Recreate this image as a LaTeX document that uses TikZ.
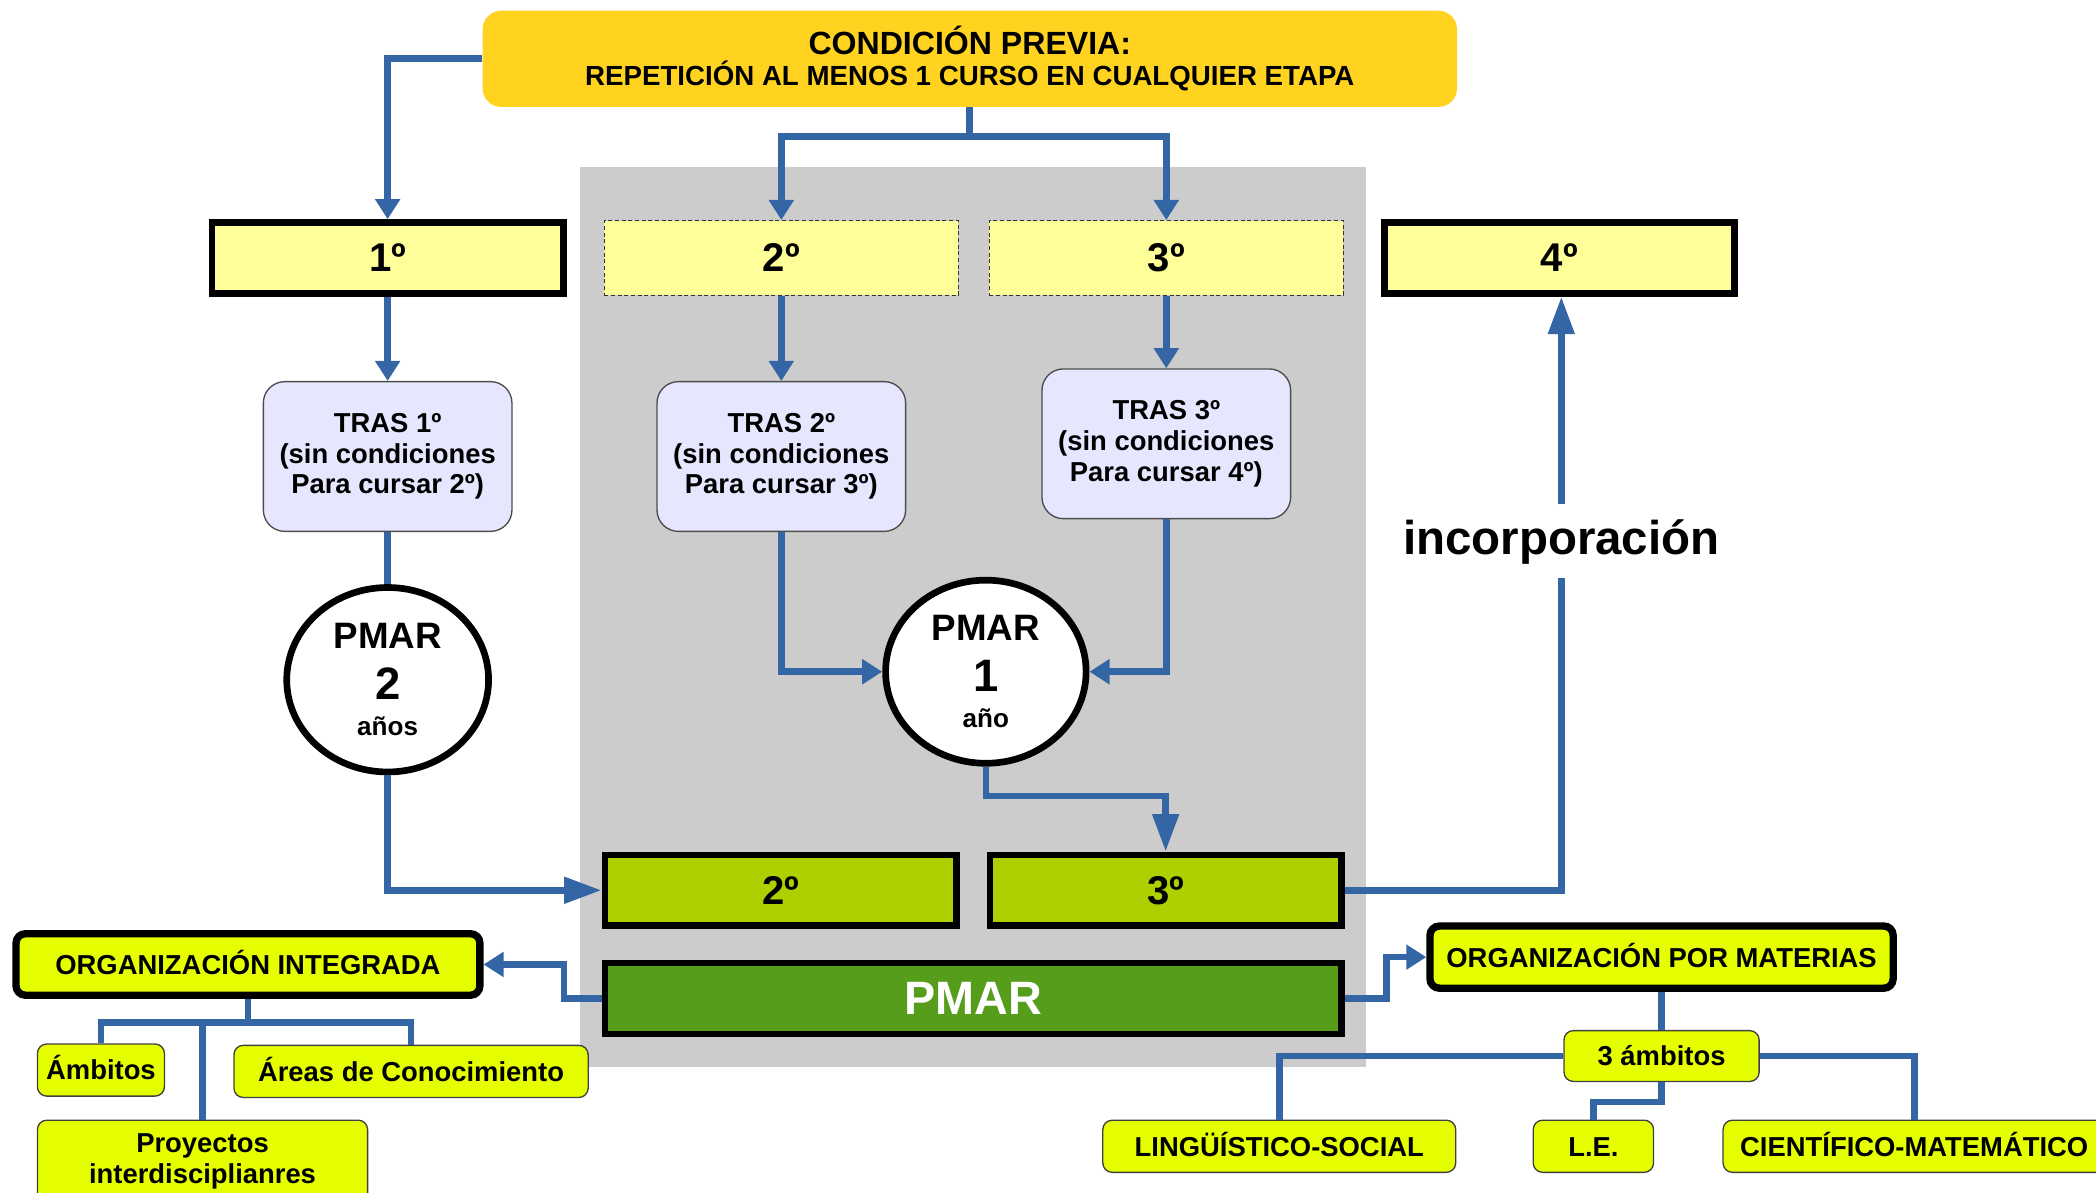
\documentclass[tikz,border=0pt]{standalone}
\usepackage{fontspec}
\setmainfont{Liberation Sans}
\usetikzlibrary{shapes.geometric, arrows.meta}

\definecolor{oro}{HTML}{FFD320}
\definecolor{crema}{HTML}{FFFF99}
\definecolor{lila}{HTML}{E6E6FF}
\definecolor{lima}{HTML}{E6FF00}
\definecolor{pistacho}{HTML}{AECF00}
\definecolor{hierba}{HTML}{579D1C}
\definecolor{azul}{HTML}{3465A4}
\definecolor{gris}{HTML}{CCCCCC}

\begin{document}
\begin{tikzpicture}[x=1pt, y=-1pt,
	every node/.style={inner sep=0pt, align=center, font=\fontsize{20.5}{23}\selectfont\bfseries},
	curso/.style={draw=black, line width=5pt, fill=crema, minimum width=263pt, minimum height=53pt, font=\fontsize{30}{32}\selectfont\bfseries},
	cursodash/.style={draw=black!80, densely dashed, line width=0.8pt, fill=crema, minimum width=265pt, minimum height=56pt, font=\fontsize{30}{32}\selectfont\bfseries},
	tras/.style={draw=black!70, line width=1pt, fill=lila, rounded corners=16pt, minimum width=186pt, minimum height=112pt},
	pmar/.style={ellipse, draw=black, line width=5pt, fill=white, minimum width=151pt, minimum height=138pt, font=\fontsize{20}{27}\selectfont\bfseries},
	verde/.style={draw=black, line width=5pt, fill=pistacho, minimum width=263pt, minimum height=53pt, font=\fontsize{30}{32}\selectfont\bfseries},
	org/.style={draw=black, line width=5.5pt, fill=lima, rounded corners=7pt, minimum width=347pt, minimum height=46pt, una},
	hoja/.style={draw=black!75, line width=1pt, fill=lima, rounded corners=7pt, minimum height=39pt},
	una/.style={text height=14.8pt, text depth=0pt},
	linea/.style={draw=azul, line width=5pt},
	flecha/.style={linea, -{Triangle[length=15pt, width=18pt]}},
	flechalarga/.style={linea, -{Triangle[length=28pt, width=19pt]}}
]
	\useasboundingbox (0,0) rectangle (1568,892);
	\fill[gris] (434,125) rectangle (1022,798);

	% condicion previa
	\node[fill=oro, rounded corners=14pt, minimum width=729pt, minimum height=72pt] (cond) at (725.5,44)
		{{\fontsize{24}{26}\selectfont CONDICIÓN PREVIA:}\\{\fontsize{20.7}{24}\selectfont REPETICIÓN AL MENOS 1 CURSO EN CUALQUIER ETAPA}};
	\coordinate (reparto) at (725.5,102);

	% cursos
	\node[curso] (c1) at (290,193) {1º};
	\node[cursodash] (c2) at (584.5,193) {2º};
	\node[cursodash] (c3) at (872.5,193) {3º};
	\node[curso, minimum width=262pt] (c4) at (1166.5,193) {4º};

	\node[tras] (t1) at (290,341.5) {TRAS 1º\\(sin condiciones\\Para cursar 2º)};
	\node[tras] (t2) at (584.5,341.5) {TRAS 2º\\(sin condiciones\\Para cursar 3º)};
	\node[tras] (t3) at (872.5,332) {TRAS 3º\\(sin condiciones\\Para cursar 4º)};

	\node[pmar] (p2) at (290,508.5)
		{{\fontsize{27.5}{30}\selectfont PMAR}\\[11pt]{\fontsize{34}{36}\selectfont 2}\\{\fontsize{19.5}{22}\selectfont años}};
	\node[pmar, minimum width=150pt, minimum height=137pt] (p1) at (737.5,502.5)
		{{\fontsize{27.5}{30}\selectfont PMAR}\\[11pt]{\fontsize{34}{36}\selectfont 1}\\{\fontsize{19.5}{22}\selectfont año}};

	\node[verde] (g2) at (584,666) {2º};
	\node[verde] (g3) at (872,666) {3º};
	\node[verde, fill=hierba, minimum width=551pt, text=white, font=\fontsize{35}{38}\selectfont\bfseries] (pm) at (728,747) {PMAR};

	\node[minimum height=55pt, text height=26pt, text depth=7pt, font=\fontsize{35.5}{40}\selectfont\bfseries] (inc) at (1168,405) {incorporación};

	% organizaciones
	\node[org] (oi) at (185.5,721.5) {ORGANIZACIÓN INTEGRADA};
	\node[org, minimum width=346.5pt, minimum height=46.5pt] (om) at (1243,716) {ORGANIZACIÓN POR MATERIAS};

	\node[hoja, una, minimum width=95pt] (amb) at (75.5,800.5) {Ámbitos};
	\node[hoja, una, minimum width=265pt] (are) at (307.5,801.5) {Áreas de Conocimiento};
	\node[hoja, minimum width=247pt, minimum height=62pt] (pro) at (151.5,869) {Proyectos\\interdisciplianres};
	\coordinate (ramas) at (185.5,765);

	\node[hoja, una, minimum width=146pt, minimum height=38pt] (tres) at (1243,790) {3 ámbitos};
	\node[hoja, una, minimum width=264pt] (lin) at (957,857.5) {LINGÜÍSTICO-SOCIAL};
	\node[hoja, una, minimum width=90pt] (le) at (1192,857.5) {L.E.};
	\node[hoja, una, minimum width=286pt] (cie) at (1432,857.5) {CIENTÍFICO-MATEMÁTICO};

	% conexiones
	\draw[flecha] (cond.west) -| (c1.north);
	\draw[linea] (cond.south) -- (reparto);
	\draw[flecha] (reparto) -| (c2.north);
	\draw[flecha] (reparto) -| (c3.north);

	\draw[flecha] (c1.south) -- (t1.north);
	\draw[flecha] (c2.south) -- (t2.north);
	\draw[flecha] (c3.south) -- (t3.north);

	\draw[linea] (t1.south) -- (p2.north);
	\draw[flecha] (t2.south) |- (p1.west);
	\draw[flecha] (t3.south) |- (p1.east);

	\draw[flechalarga] (p2.south) |- (g2.west);
	\draw[flechalarga] (p1.south) -- ++(0,22) -| (g3.north);
	\draw[linea] (g3.east) -| (inc.south);
	\draw[flechalarga] (inc.north) -- (inc.north |- c4.south);

	\draw[flecha] (pm.west) -- ++(-28,0) |- (oi.east);
	\draw[flecha] (pm.east) -- ++(31,0) |- (om.west);

	\draw[linea] (oi.south) -- (ramas);
	\draw[linea] (ramas) -| (amb.north);
	\draw[linea] (ramas) -| (are.north);
	\draw[linea] (pro.north) -- (pro.north |- ramas);

	\draw[linea] (om.south) -- (tres.north);
	\draw[linea] (tres.west) -| (lin.north);
	\draw[linea] (tres.east) -| (cie.north);
	\draw[linea] (tres.south) -- ++(0,15) -| (le.north);
\end{tikzpicture}
\end{document}
